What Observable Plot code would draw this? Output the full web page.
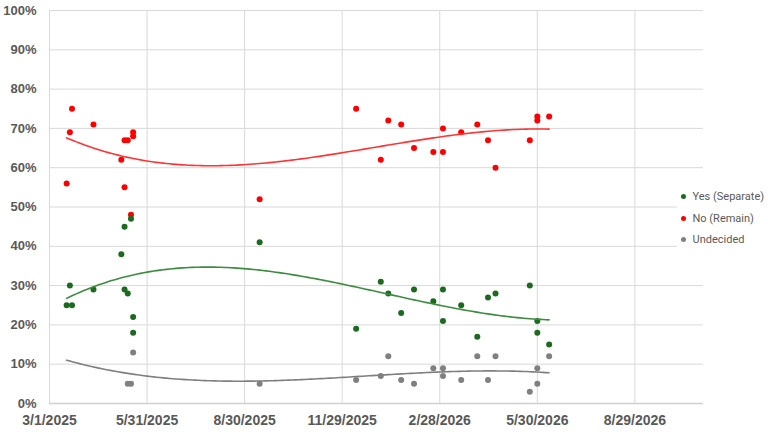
<!DOCTYPE html>
<html><head><meta charset="utf-8">
<script src="https://cdn.jsdelivr.net/npm/d3@7"></script>
<script src="https://cdn.jsdelivr.net/npm/@observablehq/plot@0.6"></script>
<style>
html,body{margin:0;padding:0;background:#fff;}
#wrap{position:relative;width:768px;height:432px;}
#legend{position:absolute;left:677px;top:186px;width:91px;height:64px;background:#fff;font-family:Roboto,"Liberation Sans",sans-serif;font-size:11px;color:#595959;}
.item{position:absolute;left:0;height:14px;line-height:14px;white-space:nowrap;}
.sw{display:inline-block;width:5px;height:5px;border-radius:50%;margin-left:4px;margin-right:6.5px;vertical-align:middle;position:relative;top:-1px;}
</style></head><body>
<div id="wrap"><div id="legend"></div></div>
<script>
const pollDates = ["2025-03-17","2025-03-20","2025-03-22","2025-04-11","2025-05-07","2025-05-10","2025-05-10","2025-05-13","2025-05-16","2025-05-18","2025-05-18","2025-09-13","2025-12-12","2026-01-04","2026-01-11","2026-01-23","2026-02-04","2026-02-22","2026-03-03","2026-03-03","2026-03-20","2026-04-04","2026-04-14","2026-04-21","2026-05-23","2026-05-30","2026-05-30","2026-06-10"];
const yesValues = [25,30,25,29,38,45,29,28,47,22,18,41,19,31,28,23,29,26,29,21,25,17,27,28,30,18,21,15];
const noValues = [56,69,75,71,62,55,67,67,48,69,68,52,75,62,72,71,65,64,64,70,69,71,67,60,67,73,72,73];
const undecidedValues = [null,null,null,null,null,null,null,5,5,null,13,5,6,7,12,6,5,9,7,9,6,12,6,12,3,9,5,12];
const seriesNames = ["Yes (Separate)","No (Remain)","Undecided"];
const seriesColors = ["#1b6a1f","#ff0000","#808080"];
const trendColors = ["#3c8c3f","#ff3434","#7f7f7f"];
const xTickDates = ["2025-03-01","2025-05-31","2025-08-30","2025-11-29","2026-02-28","2026-05-30","2026-08-29"];
const xDomain = ["2025-03-01","2026-11-01"];
const yTicks = [0,10,20,30,40,50,60,70,80,90,100];

const parse = d3.utcParse("%Y-%m-%d");
const polls = pollDates.map((d,i)=>({date: parse(d), yes: yesValues[i], no: noValues[i], und: undecidedValues[i]}));
const keys = ["yes","no","und"];
const DAY = 86400000;
const d0 = parse(xDomain[0]);
const tOf = d => (d - d0) / (100*DAY);

function cubicFit(xs, ys){
  const n = 4;
  const A = Array.from({length:n},()=>Array(n+1).fill(0));
  for (let k=0;k<xs.length;k++){
    const x=xs[k], y=ys[k];
    for (let i=0;i<n;i++){
      for (let j=0;j<n;j++) A[i][j]+=Math.pow(x,i+j);
      A[i][n]+=y*Math.pow(x,i);
    }
  }
  for (let i=0;i<n;i++){
    let p=i; for (let r=i+1;r<n;r++) if (Math.abs(A[r][i])>Math.abs(A[p][i])) p=r;
    [A[i],A[p]]=[A[p],A[i]];
    for (let r=0;r<n;r++){ if(r===i) continue; const f=A[r][i]/A[i][i]; for(let c=i;c<=n;c++) A[r][c]-=f*A[i][c]; }
  }
  return A.map((row,i)=>row[n]/row[i]);
}
const minD = d3.min(polls,d=>d.date), maxD = d3.max(polls,d=>d.date);
const trends = keys.map((k,si)=>{
  const pts = polls.filter(p=>p[k]!=null);
  const c = cubicFit(pts.map(p=>tOf(p.date)), pts.map(p=>p[k]));
  const out = [];
  const N = 150;
  for (let i=0;i<=N;i++){
    const date = new Date(+minD + (maxD-minD)*i/N);
    const t = tOf(date);
    out.push({date, value: c[0]+c[1]*t+c[2]*t*t+c[3]*t*t*t});
  }
  return out;
});

const chart = Plot.plot({
  width: 768, height: 432,
  marginLeft: 49, marginRight: 65, marginTop: 10, marginBottom: 29,
  style: {fontFamily: "'Liberation Sans', Arial, sans-serif", color: "#595959", background: "#fff"},
  x: {type: "utc", domain: xDomain.map(parse), label: null},
  y: {domain: [0,100], label: null},
  marks: [
    Plot.gridX(xTickDates.map(parse), {stroke: "#d9d9d9", strokeOpacity: 1}),
    Plot.gridY(yTicks, {stroke: "#d9d9d9", strokeOpacity: 1}),
    Plot.ruleY([0], {stroke: "#d0d0d0", strokeWidth: 1.5}),
    Plot.axisX(xTickDates.map(parse), {tickSize: 0, tickPadding: 12, tickFormat: d3.utcFormat("%-m/%-d/%Y"), fontSize: 14, fontWeight: "bold"}),
    Plot.axisY(yTicks, {tickSize: 0, tickPadding: 13, tickFormat: d => d + "%", fontSize: 13, fontWeight: "bold"}),
    Plot.dot(polls.filter(p=>p.no!=null), {x: "date", y: "no", r: 3, fill: seriesColors[1]}),
    Plot.dot(polls.filter(p=>p.yes!=null), {x: "date", y: "yes", r: 3, fill: seriesColors[0]}),
    Plot.dot(polls.filter(p=>p.und!=null), {x: "date", y: "und", r: 3, fill: seriesColors[2]}),
    Plot.line(trends[0], {x: "date", y: "value", stroke: trendColors[0], strokeWidth: 1.6}),
    Plot.line(trends[1], {x: "date", y: "value", stroke: trendColors[1], strokeWidth: 1.6}),
    Plot.line(trends[2], {x: "date", y: "value", stroke: trendColors[2], strokeWidth: 1.6})
  ]
});
const wrap = document.getElementById("wrap");
wrap.insertBefore(chart, wrap.firstChild);
const legend = document.getElementById("legend");
const rowTops = [4, 26, 47];
seriesNames.forEach((name,i)=>{
  const it = document.createElement("div");
  it.className = "item";
  it.style.top = rowTops[i] + "px";
  const sw = document.createElement("span");
  sw.className = "sw"; sw.style.background = seriesColors[i];
  it.appendChild(sw);
  it.appendChild(document.createTextNode(name));
  legend.appendChild(it);
});
</script>
</body></html>
